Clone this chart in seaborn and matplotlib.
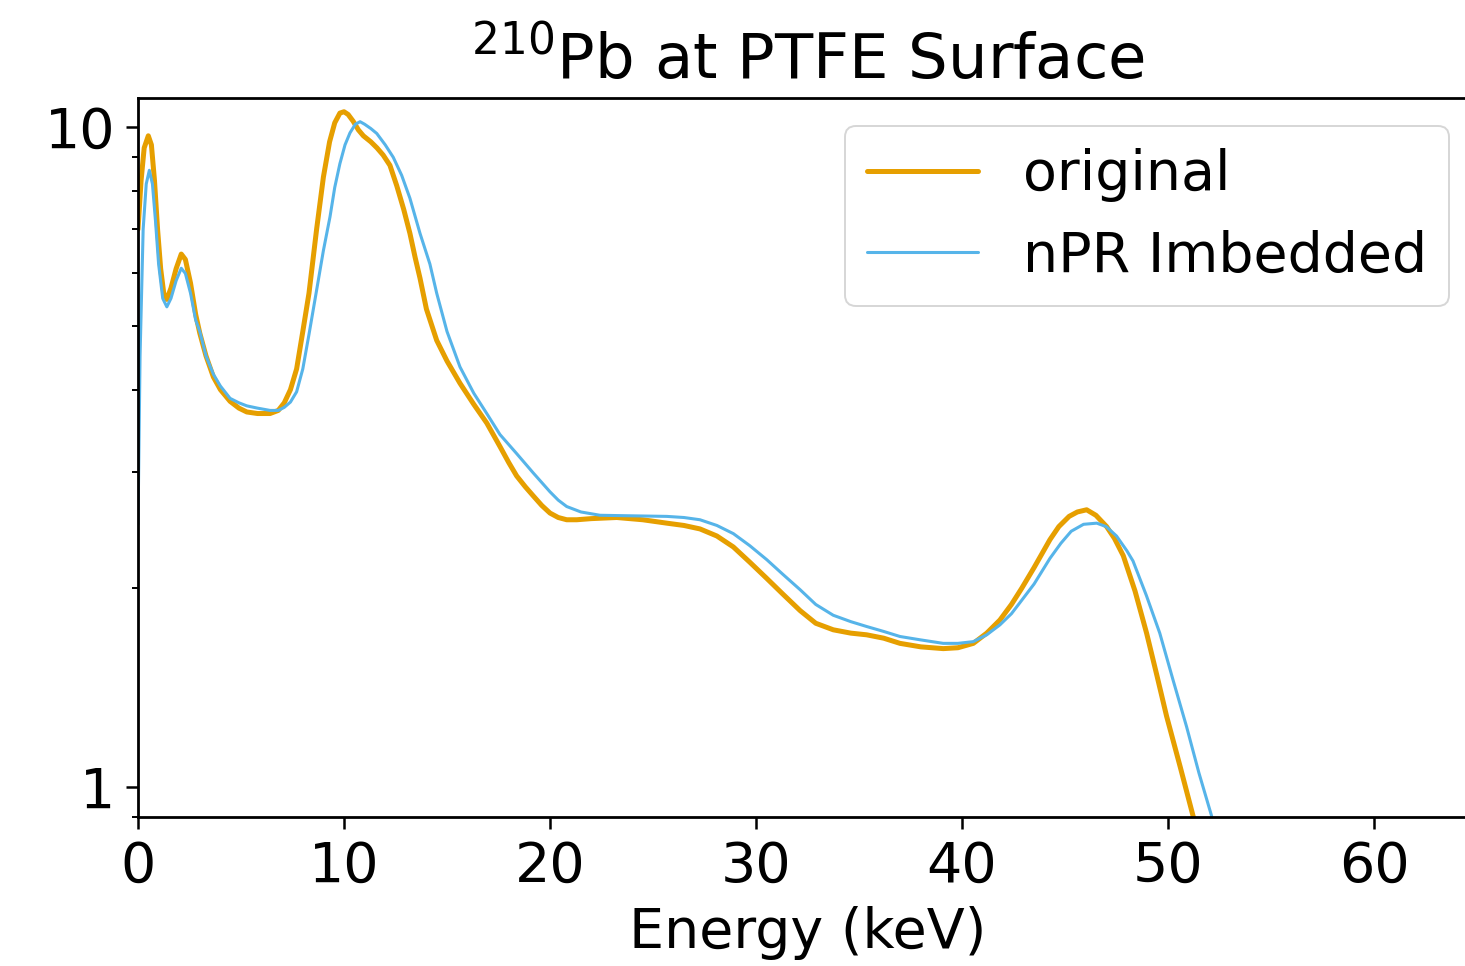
import matplotlib
matplotlib.use("Agg")
import matplotlib.pyplot as plt
import seaborn as sns
import pandas as pd

# Energy spectra (counts, arbitrary units) of 210Pb decays at the PTFE surface
energy_original = [0.0, 0.15, 0.3, 0.5, 0.65, 0.8, 0.95, 1.1, 1.25, 1.4, 1.6, 1.85,
                   2.1, 2.3, 2.55, 2.8, 3.0, 3.3, 3.66, 4.0, 4.47, 4.9, 5.28, 5.8,
                   6.41, 6.81, 7.1, 7.4, 7.7, 8.0, 8.3, 8.67, 9.0, 9.3, 9.55, 9.8,
                   10.0, 10.2, 10.45, 10.7, 10.94, 11.3, 11.6, 11.9, 12.23, 12.56,
                   12.9, 13.2, 13.45, 13.69, 14.0, 14.5, 15.0, 15.63, 16.3, 16.93,
                   17.57, 18.0, 18.38, 18.8, 19.19, 19.6, 20.0, 20.4, 20.81, 21.3,
                   22.0, 23.24, 24.5, 25.67, 26.5, 27.28, 28.1, 28.9, 29.7, 30.52,
                   31.3, 32.14, 32.9, 33.75, 34.6, 35.37, 36.2, 36.99, 38.0, 39.09,
                   39.8, 40.55, 41.2, 41.84, 42.4, 42.9, 43.5, 44.27, 44.7, 45.2,
                   45.6, 46.05, 46.5, 47.02, 47.4, 47.83, 48.4, 48.96, 49.45, 49.93,
                   50.6, 51.23, 52.0]
counts_original = [7.0, 8.3, 9.3, 9.7, 9.4, 8.3, 7.0, 6.1, 5.6, 5.48, 5.7, 6.1,
                   6.42, 6.3, 5.8, 5.2, 4.87, 4.5, 4.18, 4.0, 3.84, 3.75, 3.70, 3.68,
                   3.68, 3.72, 3.82, 4.0, 4.3, 4.9, 5.6, 7.0, 8.4, 9.5, 10.15, 10.5,
                   10.55, 10.45, 10.2, 9.9, 9.7, 9.5, 9.3, 9.07, 8.75, 8.15,
                   7.5, 6.9, 6.35, 5.9, 5.3, 4.75, 4.42, 4.09, 3.8, 3.56,
                   3.28, 3.1, 2.96, 2.85, 2.76, 2.67, 2.6, 2.56, 2.54, 2.54,
                   2.55, 2.56, 2.54, 2.51, 2.49, 2.46, 2.4, 2.31, 2.19, 2.07,
                   1.96, 1.85, 1.77, 1.73, 1.71, 1.70, 1.68, 1.65, 1.63, 1.62,
                   1.625, 1.65, 1.71, 1.79, 1.89, 2.0, 2.15, 2.37, 2.48, 2.57,
                   2.61, 2.63, 2.58, 2.48, 2.38, 2.24, 1.98, 1.71, 1.48, 1.28,
                   1.07, 0.90, 0.72]

energy_npr = [0.0, 0.1, 0.25, 0.4, 0.55, 0.7, 0.85, 1.0, 1.2, 1.4, 1.6, 1.85,
              2.1, 2.3, 2.55, 2.8, 3.0, 3.3, 3.66, 4.0, 4.47, 4.9, 5.28, 5.8,
              6.41, 6.81, 7.1, 7.4, 7.7, 8.0, 8.3, 8.67, 9.0, 9.32, 9.55, 9.8,
              10.05, 10.29, 10.55, 10.78, 11.0, 11.3, 11.59, 12.0, 12.39, 12.8,
              13.2, 13.69, 14.17, 14.5, 15.0, 15.63, 16.3, 16.93, 17.57, 18.38,
              19.19, 20.0, 20.4, 20.81, 21.5, 22.43, 24.0, 25.67, 26.5, 27.28,
              28.1, 28.9, 29.7, 30.52, 31.3, 32.14, 32.9, 33.75, 34.6, 35.37,
              36.2, 36.99, 38.0, 39.09, 39.8, 40.55, 41.2, 41.84, 42.4, 42.8,
              43.5, 44.27, 44.8, 45.3, 45.9, 46.54, 47.0, 47.5, 48.0, 48.3,
              48.95, 49.6, 50.25, 50.9, 51.5, 52.1, 52.8]
counts_npr = [2.5, 4.5, 7.0, 8.2, 8.6, 8.2, 7.2, 6.2, 5.5, 5.34, 5.5, 5.85,
              6.11, 6.0, 5.6, 5.1, 4.9, 4.5, 4.22, 4.05, 3.88, 3.82, 3.78, 3.75,
              3.72, 3.72, 3.76, 3.83, 3.97, 4.3, 4.85, 5.66, 6.5, 7.31, 8.1, 8.8,
              9.4, 9.8, 10.1, 10.19, 10.1, 9.95, 9.78, 9.4, 9.0, 8.45,
              7.8, 6.9, 6.2, 5.6, 4.9, 4.33, 3.95, 3.68, 3.42, 3.20,
              2.99, 2.80, 2.72, 2.66, 2.61, 2.58, 2.575, 2.57, 2.56, 2.54,
              2.49, 2.42, 2.32, 2.21, 2.1, 1.99, 1.89, 1.82, 1.78, 1.75,
              1.72, 1.69, 1.67, 1.65, 1.65, 1.66, 1.70, 1.76, 1.83, 1.9,
              2.03, 2.22, 2.34, 2.44, 2.5, 2.51, 2.48, 2.40, 2.28, 2.2,
              1.95, 1.71, 1.45, 1.234, 1.05, 0.907, 0.74]

series_labels = ["original", "nPR Imbedded"]
series_colors = ["#E69F00", "#56B4E9"]
x_ticks = [0, 10, 20, 30, 40, 50, 60]
y_ticks = [1, 10]

df_orig = pd.DataFrame({"Energy": energy_original, "Counts": counts_original})
df_npr = pd.DataFrame({"Energy": energy_npr, "Counts": counts_npr})

sns.set_style("ticks")
plt.rcParams["font.family"] = ["DejaVu Sans"]
plt.rcParams["mathtext.fontset"] = "dejavusans"
for key in ("text.color", "axes.labelcolor", "xtick.color", "ytick.color",
            "axes.edgecolor"):
    plt.rcParams[key] = "black"

fig = plt.figure(figsize=(14.65, 9.66), dpi=100)
ax = fig.add_axes([0.0942, 0.1542, 0.914, 0.7444])

sns.lineplot(data=df_orig, x="Energy", y="Counts", ax=ax, color=series_colors[0],
             linewidth=3.6, label=series_labels[0], sort=False)
sns.lineplot(data=df_npr, x="Energy", y="Counts", ax=ax, color=series_colors[1],
             linewidth=2.2, label=series_labels[1], sort=False)

ax.set_yscale("log")
ax.set_xlim(0, 65)
ax.set_ylim(0.9, 11.07)
ax.set_xticks(x_ticks)
ax.set_xticklabels([str(t) for t in x_ticks])
ax.set_yticks(y_ticks)
ax.set_yticklabels([str(t) for t in y_ticks])
ax.yaxis.set_minor_formatter(matplotlib.ticker.NullFormatter())

for side in ax.spines.values():
    side.set_linewidth(2.0)
    side.set_color("black")
ax.tick_params(axis="both", which="major", labelsize=40, length=8.5, width=1.8,
               pad=8, color="black", labelcolor="black")
ax.tick_params(axis="y", which="minor", length=4.5, width=1.4, color="black")

ax.set_xlabel("Energy (keV)", fontsize=40, labelpad=9)
ax.set_ylabel("")
ax.set_title(r"$^{210}$Pb at PTFE Surface", fontsize=45, pad=14)

leg = ax.legend(loc="upper right", fontsize=40, frameon=True, fancybox=True,
                framealpha=0.8, edgecolor="0.8")
leg.get_frame().set_linewidth(1.4)
for txt in leg.get_texts():
    txt.set_color("black")

fig.savefig("out.png", dpi=100)
